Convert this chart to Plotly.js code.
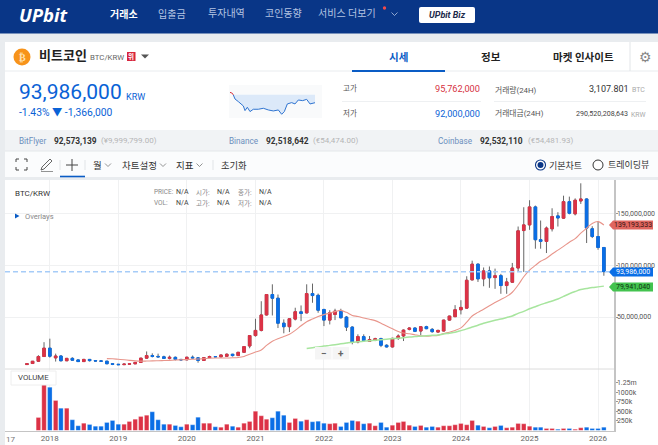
<!DOCTYPE html>
<html><head><meta charset="utf-8">
<script src="https://cdn.plot.ly/plotly-3.0.1.min.js"></script>
<style>html,body{margin:0;padding:0;background:#fff;overflow:hidden}#c{width:658px;height:445px}</style>
</head><body><div id="c"></div>
<script>
// ---- monthly candles, millions of KRW, 2017-09 .. 2026-02 ----
const firstYear = 2017, firstMonth = 9;
const opens = [3.9,4.9,7.1,11.7,19.8,10.4,12.2,7.6,9.9,8.4,6.8,8.9,7.7,7.4,7.2,4.7,4.2,3.8,4.3,4.6,6.0,10.1,12.6,11.8,11.4,9.9,10.9,8.9,8.5,11,10.4,7.9,10.6,11.6,11.4,11.9,13.9,12.6,15.8,21.9,32,37,52,71.8,68.2,44,40.6,48,55,54,72.7,71,57.3,47,52.5,55.7,49.9,40.2,25.8,31,26.4,27.4,29,22.6,21,29.3,31.6,38,39.3,36.4,40.6,38,35.4,36.4,47,50.3,57,58.6,86,101.2,87,94.7,88.2,90.1,80.5,83.7,97.5,133.8,139.3,156.7,124.9,123.3,135.5,148,145.8,161.8,150,162.5,164.4,135.5,128,117.4];
const highs = [4.9,7.3,13,25.6,29,14.5,13,10.3,11,8.9,9.4,9.3,8.2,7.9,7.3,4.9,4.4,4.7,4.8,6.2,10.4,16.6,14.8,14.5,12.5,12.6,11.7,9.3,11.5,12.7,11.1,11.2,12.5,12.2,13.4,14.7,14.3,16,21.8,32.5,48.3,65.3,72,81.7,71.8,47.7,48.5,59,61.2,81.7,82.4,72.7,58,56.6,58,58,51,41,33.2,33.2,31.6,29.9,29.9,23.5,29.9,33.2,37.9,40,39.9,41,41.5,39.3,37.7,47.3,51.2,61.5,66.3,89.5,104.6,102,98,99,96.9,91.8,87.9,102.4,137.7,156.4,163.2,158,143.5,137.7,155.4,151.6,167.6,166.7,165,179.6,165,138,142.5,117.8];
const lows = [3.5,4.7,6.5,11.3,10.6,6.8,7,7.3,8,6.6,6.6,6.8,7,6.9,4.3,3.4,3.7,3.7,4.2,4.5,5.9,9.7,10.8,11,9.5,8.9,7.9,7.9,8.1,10.1,5.7,7.6,10.2,10.9,10.9,11.6,11.7,12.5,15.5,19.7,31,36,51.5,51.5,39.3,34.2,35.4,46.7,46,53.5,63.8,54.1,41.2,42.8,47,48.5,36.4,23.5,24.5,26.4,25.8,26.6,20.8,20.5,20.5,27.8,26.7,37,35.4,32.5,38.2,34.8,34.9,36,46.5,50,52.5,58,85.5,84,79.8,78.3,77.3,72.5,72.5,83,93.7,93.7,134.5,116.2,116.2,112,132.9,137.7,145,149.5,148.5,159.6,121.7,126.5,115.2,90];
const closes = [4.7,7.1,11.7,19.8,12,12.2,7.6,9.9,8.1,6.8,8.9,7.7,7.4,7.2,4.7,4.2,3.8,4.3,4.6,6.0,10.1,12.6,11.8,11.4,9.9,10.9,8.9,8.5,11,10.4,7.9,10.6,11.6,11.4,13.2,13.9,12.6,15.8,21.3,32,37,52,71.8,68.2,44,40.6,48.3,55.1,53.5,72.7,70.8,56.6,47,54.1,55.7,49.3,40.2,25.8,31,27.1,28.1,29,22.6,21,29.3,31.6,37.3,39.3,36.1,40.6,38.7,35.8,37,47,50.9,57,59.3,85.6,101.2,87,94.7,88,90,80.5,84,97.5,133.5,139.3,156.7,124.9,123.3,136.2,147.4,146,161.8,150.6,163.2,164.4,136.2,128,117.4,93.986];
// thousands on the volume pane
const volumes = [3,3,339,1450,1128,781,582,582,278,122,191,156,113,113,208,260,165,165,234,295,365,399,486,278,165,165,130,95,165,148,347,191,191,95,87,165,113,87,191,234,503,382,295,330,503,399,208,312,243,278,226,243,191,174,191,104,208,260,243,174,191,122,208,87,139,208,234,139,104,130,87,104,87,122,122,148,182,148,260,139,104,69,104,130,69,87,182,174,113,87,87,52,52,35,52,52,35,69,87,52,52,87];
const redMA = [9.7,9.5,9.0,8.5,8.0,7.5,7.2,7.3,7.5,7.6,7.8,8.0,8.3,8.5,8.8,9.1,9.3,9.6,10.0,10.2,10.3,10.3,10.5,10.8,11.8,13.9,16,18,22.5,26.5,29,31,33.2,37,41.5,45.5,48,50.4,52.3,53.8,55.2,56.4,54.5,51.5,50.5,49,47.8,46.5,44,41.2,38.5,36,34.5,33.8,32.8,31.8,31.4,31.8,32.2,34,35.3,37,39.5,45,51,54.5,57.5,61,64,67,70,74,81,89,95.5,100,104,107,111,114.8,118.5,122.5,126,131.3,136,140.7,142.5,139.193];
const greenMA = [19.4,20.2,21,21.8,22.5,23.2,24,24.8,25.6,26,26.5,27,27.5,28,28.5,29,29.5,30,30.5,31,31.4,31.8,32.2,32.6,33.5,34.3,35.2,36.8,38.5,40.3,42,44,45.5,46.8,48,49.5,51,53.5,55.5,58,60,62,63.8,65.5,67.5,70,72.5,74.7,76.6,77.6,78.5,79.2,79.941];
// ---- axis labels ----
const yearTicks = ['2018','2019','2020','2021','2022','2023','2024','2025','2026'];
const priceTicks = [50,100,150];
const priceTickText = ['50,000,000','100,000,000','150,000,000'];
const volTicks = [250,500,750,1000,1250];
const volTickText = ['250k','500k','750k','1000k','1.25m'];
// ---- 24h sparkline (millions of KRW) ----
const sparkTime = [0,7,10,15,25,32,40,45,52,60,70,85,100,115,130,145,155,163,172,185,195,205,218,230,240,255];
const sparkPrice = [95.76,95.6,95.31,94.62,94.17,93.88,93.43,92.63,93.2,92.46,92.86,92.86,93.03,92.74,92.57,92.74,92.0,92.46,93.77,94.0,93.77,94.45,94.34,94.56,93.77,93.986];
const prevClose = 95.352;

const RED='#dc3246', BLUE='#0a6ee6', NAVY='#093687';
const M = a => a.map(v => v*1e6);
const months = opens.map((_,i)=>{const t=firstYear*12+firstMonth-1+i;return Math.floor(t/12)+'-'+String(t%12+1).padStart(2,'0')+'-01';});
const FONT="Roboto, 'Noto Sans CJK KR', sans-serif";
const W=658,H=445, fx=x=>x/W, fy=y=>1-y/H;
const shapes=[],annots=[];
const rect=(x0,y0,x1,y1,fill,layer='below',line)=>shapes.push({type:'rect',xref:'paper',yref:'paper',x0:fx(x0),x1:fx(x1),y0:fy(y1),y1:fy(y0),fillcolor:fill,line:line||{width:0},layer});
const ln=(x0,y0,x1,y1,color,w=1,layer='below')=>shapes.push({type:'line',xref:'paper',yref:'paper',x0:fx(x0),x1:fx(x1),y0:fy(y0),y1:fy(y1),line:{color,width:w},layer});
const circ=(cx,cy,r,fill,line)=>shapes.push({type:'circle',xref:'paper',yref:'paper',x0:fx(cx-r),x1:fx(cx+r),y0:fy(cy+r),y1:fy(cy-r),fillcolor:fill,line:line||{width:0},layer:'above'});
const poly=(pts,fill,line,closed=true)=>shapes.push({type:'path',xref:'paper',yref:'paper',path:pts.map((p,i)=>(i?'L':'M')+fx(p[0])+','+fy(p[1])).join(' ')+(closed?' Z':''),fillcolor:fill||'rgba(0,0,0,0)',line:line||{width:0},layer:'above'});
const T=(text,x,y,size,color,anchor='left',extra={})=>annots.push(Object.assign({text,x:fx(x),y:fy(y),xref:'paper',yref:'paper',xanchor:anchor,yanchor:'middle',showarrow:false,borderpad:0,font:{size,color,family:FONT}},extra));
const chev=(x,y,c='#777',s=3,wd=.8)=>poly([[x-s,y-1.5],[x,y+1.5],[x+s,y-1.5]],null,{color:c,width:wd},false);

// page background & header
rect(0,0,658,445,'#e9ecef');
rect(0,0,658,33.5,NAVY);
rect(5,42,658,130,'#ffffff');
rect(5,130,658,151,'#f1f3f5');
rect(5,151,658,177,'#fbfcfd');
rect(5,180,658,445,'#ffffff');
ln(5,71,658,71,'#e9ecef');
ln(5,151,658,151,'#e4e7ea');
T('<b><i>UPbit</i></b>',18,14.5,18.5,'#ffffff','left',{font:{size:18.5,color:'#fff',family:"'Open Sans',sans-serif"}});
T('<b>거래소</b>',124,14,10,'#ffffff','center');
[['입출금',172],['투자내역',226],['코인동향',283],['서비스 더보기',347]].forEach(a=>T(a[0],a[1],14,10,'#b4c4e2','center'));
circ(384.5,8,1.7,'#f04a4a');
chev(394.5,14,'#b4c4e2');
shapes.push({type:'path',xref:'paper',yref:'paper',layer:'above',fillcolor:'#fff',line:{width:0},path:'M'+fx(421)+','+fy(7)+' L'+fx(473)+','+fy(7)+' Q'+fx(475)+','+fy(7)+' '+fx(475)+','+fy(9)+' L'+fx(475)+','+fy(21)+' Q'+fx(475)+','+fy(23)+' '+fx(473)+','+fy(23)+' L'+fx(421)+','+fy(23)+' Q'+fx(419)+','+fy(23)+' '+fx(419)+','+fy(21)+' L'+fx(419)+','+fy(9)+' Q'+fx(419)+','+fy(7)+' '+fx(421)+','+fy(7)+' Z'});
T('<b><i>UPbit Biz</i></b>',447,15,9,'#1b2a4a','center');

// coin title row
circ(22,57,8.5,'#f7931a');
T('<b>₿</b>',22,57,10,'#ffd9a0','center',{font:{size:10,color:'#ffe0b0',family:"'DejaVu Sans'"}});
T('<b>비트코인</b>',38,56,13,'#222','left');
T('BTC/KRW',89,57,7.8,'#666','left');
rect(127,52,135.5,61,'#d7263d','above');
T('<b>위</b>',131.2,56.5,6.5,'#fff','center');
poly([[141,54.5],[149,54.5],[145,58.5]],'#555');
T('<b>시세</b>',398,57,10.5,'#0a5cc5','center');
T('<b>정보</b>',491,57,10.5,'#222','center');
T('<b>마켓 인사이트</b>',583,57,10.5,'#222','center');
ln(352,71,445,71,'#0a5cc5',2,'above');
ln(630,42,630,71,'#e2e5e8');
T('⚙',645,57,14,'#888','center',{font:{size:14,color:'#888',family:"'DejaVu Sans'"}});

// price block
T('93,986,000',18,92,21,'#0a62d6','left');
T('KRW',125,97,9,'#0a62d6','left');
T('-1.43% ▼ -1,366,000',18,112,10.3,'#0a62d6','left');
rect(229,85,322,118,'#f9fafb');
T('고가',342,89,7.5,'#555','left');
T('95,762,000',481,89,9.2,'#d6323f','right');
T('거래량(24H)',494,89.5,7.8,'#555','left');
T('3,107.801',630,89,9,'#333','right');
T('BTC',646,90,7,'#aaa','right');
ln(342,101.5,481,101.5,'#eef0f2');
ln(494,101.5,646,101.5,'#eef0f2');
T('저가',342,114,7.5,'#555','left');
T('92,000,000',481,114,9.2,'#0a62d6','right');
T('거래대금(24H)',494,114,7.8,'#555','left');
T('290,520,208,643',629,114,7.1,'#444','right');
T('KRW',646,114.5,6.8,'#aaa','right');

// exchange row
[['BitFlyer','92,573,139','(¥9,999,799.00)',18,53,100],['Binance','92,518,642','(€54,474.00)',228,265,312],['Coinbase','92,532,110','(€54,481.93)',437,479,527]].forEach(a=>{
  T(a[0],a[3],140.5,8.2,'#6b8fbd','left');
  T('<b>'+a[1]+'</b>',a[4],140.5,8.4,'#333','left');
  T(a[2],a[5],140.5,8,'#b5b5b5','left');
});

// toolbar
const cg={color:'#444',width:1};
[[16,162,16,159,19,159],[24,159,27,159,27,162],[16,167,16,170,19,170],[24,170,27,170,27,167]].forEach(a=>poly([[a[0],a[1]],[a[2],a[3]],[a[4],a[5]]],null,cg,false));
poly([[42,167],[50,159],[52,161],[44,169],[41,170]],null,{color:'#555',width:.9},true);
ln(41,171.5,53,171.5,'#777',.8,'above');
ln(72,159,72,171,'#444',1,'above');ln(66,165,78,165,'#444',1,'above');
ln(60,160,60,170,'#e1e4e7');ln(85,160,85,170,'#e1e4e7');ln(213,160,213,170,'#e1e4e7');
ln(60,176.5,85,176.5,'#0a5cc5',1.6,'above');
T('월',97.5,165,9.5,'#333','center');chev(108,165);
T('차트설정',139,165,9.5,'#333','center');chev(163,165);
T('지표',184.5,165,9.5,'#333','center');chev(199.5,165);
T('초기화',233.5,165,9.3,'#333','center');
circ(540.5,165,5,'#fff',{color:NAVY,width:1.1});circ(540.5,165,3,NAVY);
T('기본차트',548,165,9,'#333','left');
circ(598,165,5,'#fff',{color:'#333',width:1});
T('트레이딩뷰',607,165,9,'#333','left');

// chart header
T('BTC/KRW',14,193,8,'#333','left');
[['PRICE:',153,192],['VOL:',153,203],['시가:',195,192],['고가:',195,203],['종가:',237,192],['저가:',237,203]].forEach(a=>T(a[0],a[1],a[2],6.5,'#888','left'));
[[175,192],[175,203],[216,192],[216,203],[258,192],[258,203]].forEach(a=>T('N/A',a[0],a[1],7,'#444','left'));
poly([[15,213.5],[15,218.5],[19.5,216]],'#0a5cc5');
T('Overlays',24,216.5,7.5,'#888','left');

// panes
ln(5,369,614,369,'#dcdcdc',1,'above');
// zoom buttons
rect(315,347,349,359.5,'#f5f5f5','above');
ln(332,347,332,359.5,'#ffffff',1,'above');
T('<b>−</b>',323.5,353.5,10,'#666','center');
T('<b>+</b>',341,353.5,10,'#666','center');
// VOLUME box
rect(11,371,56,385,'#ffffff','above',{color:'#eeeeee',width:1});
T('VOLUME',17,377.5,7.8,'#444','left');
T('17',5,439,8,'#777','left');

// price tags
const tag=(y,text,bg,fg)=>{
  poly([[609,y],[613,y-4.5],[653,y-4.5],[653,y+4.5],[613,y+4.5]],bg);
  T(text,633,y,7,fg,'center');
};
tag(225,'139,193,333','#e0665f','#3a1412');
tag(272,'93,986,000',BLUE,'#ffffff');
tag(287,'79,941,040','#43c34f','#0f3313');

// last-price dashed level, drawn from the data
shapes.push({type:'line',xref:'paper',yref:'y',x0:fx(5),x1:fx(609),y0:closes[closes.length-1]*1e6,y1:closes[closes.length-1]*1e6,line:{color:'#a6ccf8',width:1.5,dash:'5px,3px'},layer:'above'});

const wickW=1.39e9, volW=2.05e9;
const traces=[
 {type:'candlestick',xaxis:'x',yaxis:'y',x:months,open:M(opens),high:M(highs),low:M(lows),close:M(closes),width:wickW,whiskerwidth:0,
  increasing:{line:{color:'#666666',width:1},fillcolor:'#666666'},decreasing:{line:{color:'#666666',width:1},fillcolor:'#666666'},hoverinfo:'skip',showlegend:false},
 {type:'candlestick',xaxis:'x',yaxis:'y',x:months,open:M(opens),close:M(closes),high:M(opens.map((o,i)=>Math.max(o,closes[i]))),low:M(opens.map((o,i)=>Math.min(o,closes[i]))),width:wickW,whiskerwidth:0,
  increasing:{line:{color:RED,width:1},fillcolor:RED},decreasing:{line:{color:BLUE,width:1},fillcolor:BLUE},hoverinfo:'skip',showlegend:false},
 {type:'scatter',mode:'lines',xaxis:'x',yaxis:'y',x:months.slice(-redMA.length),y:M(redMA),line:{color:'#e8958b',width:1.1,shape:'spline'},hoverinfo:'skip',showlegend:false},
 {type:'scatter',mode:'lines',xaxis:'x',yaxis:'y',x:months.slice(-greenMA.length),y:M(greenMA),line:{color:'#a7e59e',width:1.5,shape:'spline'},hoverinfo:'skip',showlegend:false},
 {type:'bar',xaxis:'x',yaxis:'y2',x:months,y:volumes.map(v=>v*1e3),width:volW,marker:{color:opens.map((o,i)=>closes[i]>=o?RED:BLUE),line:{width:.5,color:'rgba(255,255,255,.5)'}},hoverinfo:'skip',showlegend:false},
 // sparkline
 {type:'scatter',mode:'lines',xaxis:'x2',yaxis:'y3',x:sparkTime.slice(2),y:sparkTime.slice(2).map(()=>prevClose*1e6),line:{width:0,color:'rgba(0,0,0,0)'},hoverinfo:'skip',showlegend:false},
 {type:'scatter',mode:'lines',xaxis:'x2',yaxis:'y3',x:sparkTime.slice(2),y:M(sparkPrice.slice(2)),fill:'tonexty',fillcolor:'#dce9f9',line:{color:'#2f74d0',width:1},hoverinfo:'skip',showlegend:false},
 {type:'scatter',mode:'lines',xaxis:'x2',yaxis:'y3',x:sparkTime.slice(0,3),y:M(sparkPrice.slice(0,3)),line:{color:'#d6323f',width:1},hoverinfo:'skip',showlegend:false}
];
const tickFont={size:7,color:'#555',family:FONT};
const layout={
 width:W,height:H,margin:{l:0,r:0,t:0,b:0,pad:0},paper_bgcolor:'#ffffff',plot_bgcolor:'rgba(0,0,0,0)',showlegend:false,boxmode:'overlay',barmode:'overlay',bargap:0,
 font:{family:FONT},
 xaxis:{domain:[fx(5),fx(614)],anchor:'y2',type:'date',range:['2017-05-07','2026-03-27'],rangeslider:{visible:false},
   tickmode:'array',tickvals:yearTicks.map(y=>y+'-01-01'),ticktext:yearTicks,tickfont:{size:8,color:'#666',family:FONT},ticks:'',
   showgrid:true,gridcolor:'#f0f1f2',gridwidth:1,showline:true,linecolor:'#c4c4c4',linewidth:1,zeroline:false},
 yaxis:{domain:[fy(369),fy(180)],anchor:'x',side:'right',range:[-0.4e6,182.8e6],tickmode:'array',tickvals:M(priceTicks),ticktext:priceTickText,tickfont:tickFont,
   ticks:'outside',ticklen:2,tickcolor:'#999',ticklabelstandoff:-2,showgrid:true,gridcolor:'#f0f1f2',showline:true,linecolor:'#c4c4c4',linewidth:1.5,zeroline:false},
 yaxis2:{domain:[fy(430.5),fy(369)],anchor:'x',side:'right',range:[0,1601e3],tickmode:'array',tickvals:volTicks.map(v=>v*1e3),ticktext:volTickText,tickfont:tickFont,
   ticks:'outside',ticklen:2,tickcolor:'#999',ticklabelstandoff:-2,showgrid:false,showline:true,linecolor:'#c4c4c4',linewidth:1.5,zeroline:false},
 xaxis2:{domain:[fx(230),fx(320)],anchor:'y3',range:[0,270],visible:false,fixedrange:true},
 yaxis3:{domain:[fy(118.3),fy(85)],anchor:'x2',range:[91.31e6,97.02e6],visible:false,fixedrange:true},
 shapes,annotations:annots
};
Plotly.newPlot('c',traces,layout,{displayModeBar:false,staticPlot:true});
</script></body></html>
